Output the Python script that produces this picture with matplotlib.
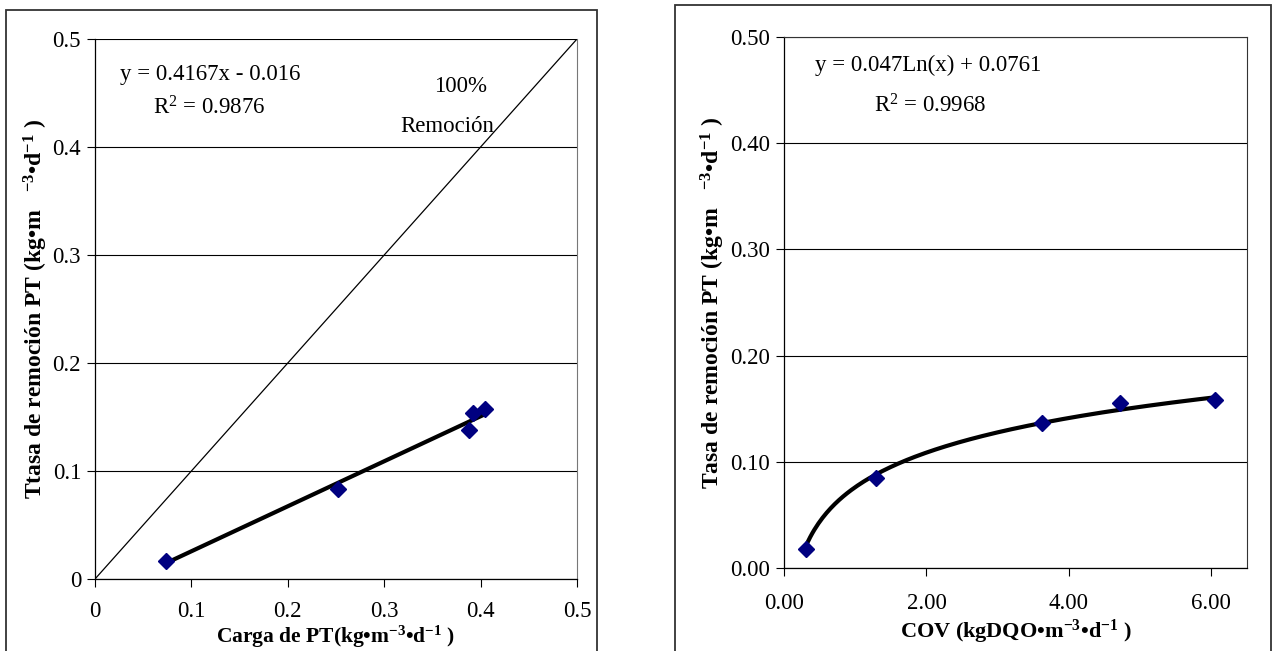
import numpy as np
import matplotlib
matplotlib.use('Agg')
import matplotlib.pyplot as plt
from matplotlib.patches import Rectangle

plt.rcParams['font.family'] = ['Liberation Serif', 'DejaVu Serif']
plt.rcParams['mathtext.fontset'] = 'custom'
plt.rcParams['mathtext.rm'] = 'Liberation Serif'
plt.rcParams['mathtext.it'] = 'Liberation Serif:italic'
plt.rcParams['mathtext.bf'] = 'Liberation Serif:bold'

# left panel: carga de PT vs tasa de remocion
carga_pt = [0.074, 0.252, 0.388, 0.392, 0.405]
remocion_pt = [0.017, 0.083, 0.138, 0.154, 0.157]
lin_a, lin_b = 0.4167, -0.016
left_ticks = [0, 0.1, 0.2, 0.3, 0.4, 0.5]
left_labels = ['0', '0.1', '0.2', '0.3', '0.4', '0.5']

# right panel: COV vs tasa de remocion
cov = [0.31, 1.29, 3.62, 4.72, 6.05]
remocion_cov = [0.018, 0.085, 0.137, 0.155, 0.158]
log_a, log_b = 0.047, 0.0761
right_xticks = [0, 2, 4, 6]
right_yticks = [0, 0.1, 0.2, 0.3, 0.4, 0.5]

fig = plt.figure(figsize=(12.76, 6.51), dpi=100)

# outer frames of the two charts
fig.patches.append(Rectangle((0.0047, -0.05), 0.4632, 1.0346, transform=fig.transFigure,
                             fill=False, edgecolor='#333333', linewidth=1.3))
fig.patches.append(Rectangle((0.529, -0.05), 0.4671, 1.0423, transform=fig.transFigure,
                             fill=False, edgecolor='#333333', linewidth=1.3))

ax1 = fig.add_axes([0.07445, 0.1106, 0.37774, 0.82949])
ax2 = fig.add_axes([0.61442, 0.1275, 0.36285, 0.81567])

for ax in (ax1, ax2):
    ax.set_ylim(0, 0.5)
    ax.set_yticks(right_yticks)
    ax.grid(axis='y', color='black', linewidth=0.8)
    ax.set_axisbelow(True)
    ax.tick_params(direction='out', length=6, width=0.8, labelsize=16.5)
    ax.tick_params(axis='x', pad=12)
    ax.tick_params(axis='y', pad=4)
    ax.spines['top'].set_visible(False)
    ax.spines['right'].set_color('#777777')
    ax.spines['left'].set_linewidth(0.9)
    ax.spines['bottom'].set_linewidth(0.9)

# ---- left chart
ax1.set_xlim(0, 0.5)
ax1.set_xticks(left_ticks)
ax1.set_xticklabels(left_labels)
ax1.set_yticklabels(left_labels)
ax1.tick_params(axis='x', pad=10)
ax1.plot([0, 0.5], [0, 0.5], color='black', linewidth=0.9, zorder=2)
xl = np.array([min(carga_pt), max(carga_pt)])
ax1.plot(xl, lin_a * xl + lin_b, color='black', linewidth=3, zorder=3)
ax1.plot(carga_pt, remocion_pt, linestyle='none', marker='D', markersize=8.5,
         color='#000080', zorder=4)
ax1.text(0.12, 0.467, 'y = 0.4167x - 0.016', ha='center', va='center', fontsize=16.5)
ax1.text(0.119, 0.436, r'R$^{2}$ = 0.9876', ha='center', va='center', fontsize=16.5)
ax1.text(0.379, 0.456, '100%', ha='center', va='center', fontsize=16.5)
ax1.text(0.365, 0.419, 'Remoción', ha='center', va='center', fontsize=16.5)
ax1.set_xlabel(r'Carga de PT(kg•m$^{\mathbf{-3}}$•d$^{\mathbf{-1}}$ )',
               fontsize=15.5, fontweight='bold')
ax1.xaxis.set_label_coords(0.5, -0.083)
ax1.set_ylabel(r'Ttasa de remoción PT (kg•m   $^{\mathbf{-3}}$•d$^{\mathbf{-1}}$ )',
               fontsize=17, fontweight='bold', labelpad=2)

# ---- right chart
ax2.set_xlim(0, 6.5)
ax2.set_xticks(right_xticks)
ax2.xaxis.set_major_formatter(plt.FormatStrFormatter('%.2f'))
ax2.yaxis.set_major_formatter(plt.FormatStrFormatter('%.2f'))
ax2.spines['right'].set_color('#333333')
ax2.spines['top'].set_visible(True)
ax2.spines['top'].set_color('#333333')
xc = np.linspace(min(cov), max(cov), 200)
ax2.plot(xc, log_a * np.log(xc) + log_b, color='black', linewidth=3, zorder=3)
ax2.plot(cov, remocion_cov, linestyle='none', marker='D', markersize=8.5,
         color='#000080', zorder=4)
ax2.text(2.02, 0.4736, 'y = 0.047Ln(x) + 0.0761', ha='center', va='center', fontsize=16.5)
ax2.text(2.05, 0.435, r'R$^{2}$ = 0.9968', ha='center', va='center', fontsize=16.5)
ax2.set_xlabel(r'COV (kgDQO•m$^{\mathbf{-3}}$•d$^{\mathbf{-1}}$ )',
               fontsize=16, fontweight='bold', labelpad=3)
ax2.set_ylabel(r'Tasa de remoción PT (kg•m   $^{\mathbf{-3}}$•d$^{\mathbf{-1}}$ )',
               fontsize=17, fontweight='bold', labelpad=2)

fig.savefig('out.png', dpi=100)
